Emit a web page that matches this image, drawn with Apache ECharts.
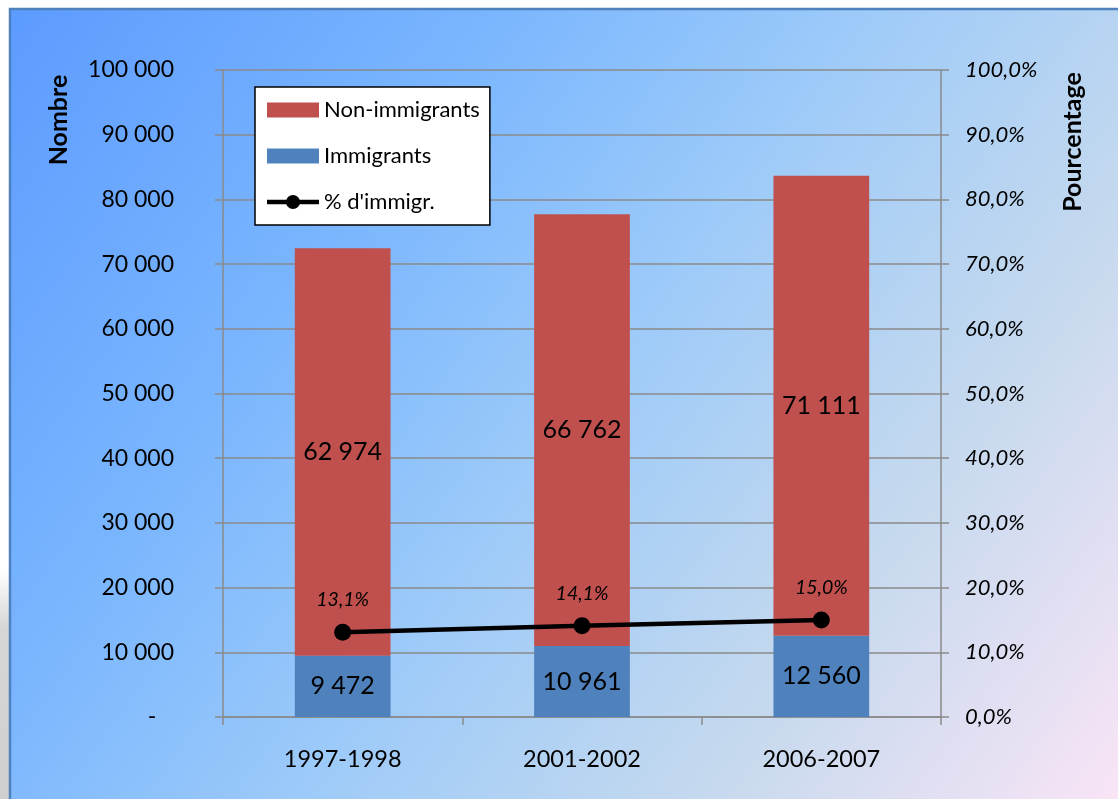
<!DOCTYPE html>
<html>
<head>
<meta charset="utf-8">
<script src="https://cdn.jsdelivr.net/npm/echarts@6/dist/echarts.min.js"></script>
<style>
html,body{margin:0;padding:0;background:#fff;}
#c{width:1118px;height:799px;}
</style>
</head>
<body>
<div id="c"></div>
<script>
const categories = ['1997-1998', '2001-2002', '2006-2007'];
const immigrants = [9472, 10961, 12560];
const nonImmigrants = [62974, 66762, 71111];
const pctImmigr = [13.1, 14.1, 15.0];

const FONT = 'Lato';
function fmtNum(v) {
  if (v === 0) return '-\u00a0\u00a0\u00a0';
  return String(v).replace(/\B(?=(\d{3})+(?!\d))/g, ' ');
}
function fmtPct(v) {
  return v.toFixed(1).replace('.', ',') + '%';
}
const lineIcon = 'path://M0,5.7 L19.5,5.7 L19.5,10.3 L0,10.3 Z M32.5,5.7 L52,5.7 L52,10.3 L32.5,10.3 Z M19,8 A7,7 0 1,1 33,8 A7,7 0 1,1 19,8 Z';

const chart = echarts.init(document.getElementById('c'));
chart.setOption({
  animation: false,
  textStyle: { fontFamily: FONT },
  graphic: [
    { type: 'rect', z: -10, silent: true,
      shape: { x: 0, y: 570, width: 11, height: 229 },
      style: { fill: new echarts.graphic.LinearGradient(0, 0, 0, 1, [
        { offset: 0, color: '#ffffff' }, { offset: 0.25, color: '#d6d6d6' }, { offset: 1, color: '#cfcfcf' }]) } },
    { type: 'rect', z: -9, silent: true,
      shape: { x: 10, y: 9, width: 1120, height: 800 },
      style: {
        fill: new echarts.graphic.LinearGradient(0, 0, 1, 1, [
          { offset: 0, color: '#5c9bff' },
          { offset: 0.29, color: '#7ab6fe' },
          { offset: 0.5, color: '#9ccaf9' },
          { offset: 0.74, color: '#c5d9ee' },
          { offset: 1, color: '#fbe5f6' }
        ]),
        stroke: '#4f81bd', lineWidth: 2.5
      } },
    { type: 'text', x: 59, y: 120, rotation: Math.PI / 2,
      style: { text: 'Nombre', font: 'bold 25px Lato', fill: '#000', align: 'center', verticalAlign: 'middle' } },
    { type: 'text', x: 1073, y: 142, rotation: Math.PI / 2,
      style: { text: 'Pourcentage', font: 'bold 25px Lato', fill: '#000', align: 'center', verticalAlign: 'middle' } }
  ],
  grid: { left: 223, right: 177, top: 70, bottom: 82, containLabel: false },
  legend: {
    orient: 'vertical', left: 255, top: 87,
    backgroundColor: '#fff', borderColor: '#000', borderWidth: 1.5,
    padding: [12, 10, 12, 12], itemGap: 24,
    itemWidth: 52, itemHeight: 15,
    textStyle: { fontFamily: FONT, fontSize: 22, color: '#000', lineHeight: 21 },
    data: [
      { name: 'Non-immigrants', icon: 'rect' },
      { name: 'Immigrants', icon: 'rect' },
      { name: "% d'immigr.", icon: lineIcon, itemStyle: { color: '#000' } }
    ]
  },
  xAxis: {
    type: 'category', data: categories,
    axisLine: { lineStyle: { color: '#8a8a8a', width: 1.5 } },
    axisTick: { show: true, length: 8, lineStyle: { color: '#8a8a8a', width: 1.5 } },
    axisLabel: { color: '#000', fontSize: 23.5, fontFamily: FONT, margin: 30 }
  },
  yAxis: [
    { type: 'value', min: 0, max: 100000, interval: 10000,
      axisLine: { show: true, lineStyle: { color: '#8a8a8a', width: 1.5 } },
      axisTick: { show: true, length: 8, lineStyle: { color: '#8a8a8a', width: 1.5 } },
      splitLine: { show: true, lineStyle: { color: '#8a8a8a', width: 1.5 } },
      axisLabel: { color: '#000', fontSize: 23, fontFamily: FONT, margin: 49, formatter: fmtNum } },
    { type: 'value', min: 0, max: 100, interval: 10, position: 'right',
      axisLine: { show: true, lineStyle: { color: '#8a8a8a', width: 1.5 } },
      axisTick: { show: true, length: 8, lineStyle: { color: '#8a8a8a', width: 1.5 } },
      splitLine: { show: false },
      axisLabel: { color: '#000', fontSize: 22, fontStyle: 'italic', fontFamily: FONT, margin: 24, formatter: fmtPct } }
  ],
  series: [
    { name: 'Immigrants', type: 'bar', stack: 'tot', data: immigrants, barWidth: '40%',
      itemStyle: { color: '#4f81bd' },
      label: { show: true, position: 'inside', color: '#000', fontSize: 25, fontFamily: FONT, formatter: p => fmtNum(p.value) } },
    { name: 'Non-immigrants', type: 'bar', stack: 'tot', data: nonImmigrants, barWidth: '40%',
      itemStyle: { color: '#c0504d' },
      label: { show: true, position: 'inside', color: '#000', fontSize: 25, fontFamily: FONT, formatter: p => fmtNum(p.value) } },
    { name: "% d'immigr.", type: 'line', yAxisIndex: 1, data: pctImmigr,
      symbol: 'circle', symbolSize: 17,
      lineStyle: { color: '#000', width: 4.5 }, itemStyle: { color: '#000' },
      label: { show: true, position: 'top', distance: 14, color: '#000', fontSize: 19.5, fontStyle: 'italic', fontFamily: FONT, formatter: p => fmtPct(p.value) },
      z: 5 }
  ]
});
</script>
</body>
</html>
